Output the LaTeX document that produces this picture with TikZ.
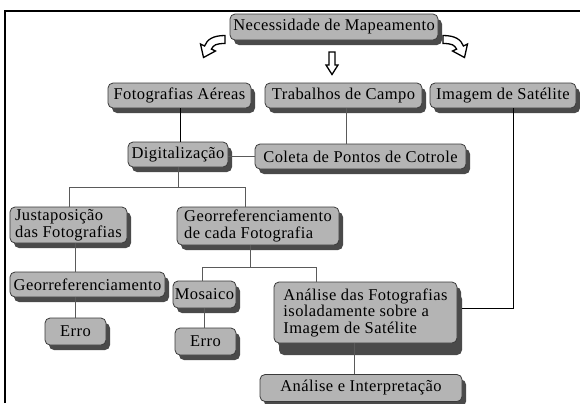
\documentclass[tikz,border=0pt]{standalone}
\usepackage{fontspec}
\setmainfont{Liberation Serif}[LetterSpace=2.5]
\usetikzlibrary{shadows}
\definecolor{boxfill}{HTML}{B4B4B4}
\definecolor{boxline}{HTML}{3A3A3A}
\definecolor{shadowc}{HTML}{4A4A4A}
\definecolor{linegray}{HTML}{5A5A5A}
\begin{document}
\begin{tikzpicture}[x=1bp,y=-1bp,
  box/.style={rectangle, rounded corners=5bp, draw=boxline, line width=0.8bp,
    fill=boxfill, inner sep=0pt, align=left,
    font=\fontsize{16.5bp}{16.5bp}\selectfont,
    drop shadow={shadow xshift=4bp, shadow yshift=-5bp, fill=shadowc, opacity=1}},
  bigshadow/.style={drop shadow={shadow xshift=5bp, shadow yshift=-12bp, fill=shadowc, opacity=1}},
  conn/.style={draw=linegray, line width=0.8bp},
  connk/.style={draw=black, line width=0.8bp},
  hollow/.style={draw=black, fill=white, line width=1.3bp, line join=miter}]
\useasboundingbox (0,0) rectangle (580,403);
% frame
\draw[line width=2.5bp] (5,403) -- (5,11) -- (580,11);

% nodes
\node[box, minimum width=208bp, minimum height=26bp] (nec) at (334,27) {Necessidade de Mapeamento};
\node[box, minimum width=143bp, minimum height=25bp] (foto) at (179.5,95.5) {Fotografias Aéreas};
\node[box, minimum width=157bp, minimum height=25bp] (trab) at (343.5,95.5) {Trabalhos de Campo};
\node[box, minimum width=146bp, minimum height=25bp] (img) at (503,95.5) {Imagem de Satélite};
\node[box, minimum width=100bp, minimum height=25bp] (digit) at (178,154.5) {Digitalização};
\node[box, minimum width=211bp, minimum height=25bp] (coleta) at (360.5,156.5) {Coleta de Pontos de Cotrole};
\node[box, minimum width=117bp, minimum height=36bp] (just) at (68.5,225) {Justaposição\\das Fotografias};
\node[box, minimum width=162bp, minimum height=38bp] (geo1) at (258,226) {Georreferenciamento\\de cada Fotografia};
\node[box, minimum width=155bp, minimum height=25bp] (geo2) at (87.5,284.5) {Georreferenciamento};
\node[box, minimum width=61bp, minimum height=27bp] (erro1) at (75.5,331.5) {Erro};
\node[box, minimum width=63bp, minimum height=27bp] (mos) at (204.5,294.5) {Mosaico};
\node[box, minimum width=61bp, minimum height=27bp] (erro2) at (205.5,341.5) {Erro};
\node[box, bigshadow, minimum width=183bp, minimum height=61bp] (anal) at (365.5,312.5) {Análise das Fotografias\\isoladamente sobre a\\Imagem de Satélite};
\node[box, minimum width=202bp, minimum height=27bp] (interp) at (361,388) {Análise e Interpretação};

% helper coordinates
\coordinate (fl) at (180,0);
\coordinate (tl) at (346,0);
\coordinate (iturn) at (513,308);
\coordinate (b1) at (69,187);
\coordinate (b2) at (245,187);
\coordinate (vl) at (75,0);
\coordinate (b3) at (202,267);
\coordinate (b4) at (316,267);
\coordinate (b5) at (250,267);
\coordinate (al) at (354,0);

% connectors
\draw[connk] (foto.south -| fl) -- (digit.north -| fl);
\draw[conn] (trab.south -| tl) -- (coleta.north -| tl);
\draw[conn] (digit.east |- coleta.west) -- (coleta.west);
\draw[connk] (img.south -| iturn) -- (iturn) -- ([xshift=5bp]iturn -| anal.east);
\draw[conn] (digit.south) -- (digit.south |- b1);
\draw[conn] (just.north -| b1) -- (b1) -- (b2) -- (geo1.north -| b2);
\draw[conn] (just.south -| vl) -- (geo2.north -| vl);
\draw[conn] (geo2.south -| vl) -- (erro1.north -| vl);
\draw[conn] (geo1.south -| b5) -- (b5);
\draw[conn] (mos.north -| b3) -- (b3) -- (b4) -- (anal.north -| b4);
\draw[conn] (mos.south) -- (mos.south |- erro2.north);
\draw[conn] (anal.south -| al) -- (interp.north -| al);

% hollow arrows from the top box
\draw[hollow] (329,52) -- (335,52) -- (335,65) -- (338,65) -- (332,74.5) -- (326,65) -- (329,65) -- cycle;
\draw[hollow] (225,35.5) .. controls (213,35.5) and (207,39.5) .. (204.6,46)
  -- (200.5,44) -- (203.5,57.5) -- (215.5,51) -- (211.4,49.1)
  .. controls (213.5,45) and (216,43.5) .. (225,43.5) -- cycle;
\begin{scope}[shift={(668,0)}, xscale=-1]
\draw[hollow] (225,35.5) .. controls (213,35.5) and (207,39.5) .. (204.6,46)
  -- (200.5,44) -- (203.5,57.5) -- (215.5,51) -- (211.4,49.1)
  .. controls (213.5,45) and (216,43.5) .. (225,43.5) -- cycle;
\end{scope}
\end{tikzpicture}
\end{document}
